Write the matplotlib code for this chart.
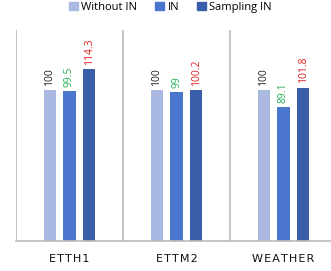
import numpy as np
import matplotlib.pyplot as plt
from matplotlib.patches import Patch

plt.rcParams['font.family'] = ['Open Sans', 'DejaVu Sans']

datasets = ["ETTH1", "ETTM2", "WEATHER"]
series = ["Without IN", "IN", "Sampling IN"]
without_in = [100, 100, 100]
with_in = [99.5, 99, 89.1]
sampling_in = [114.3, 100.2, 101.8]
labels = [["100", "100", "100"], ["99.5", "99", "89.1"], ["114.3", "100.2", "101.8"]]

colors = ["#AAB9E1", "#4A76CD", "#3B5EA8"]
label_colors = [["#222222"] * 3, ["#27B055"] * 3, ["#E02020"] * 3]

fig = plt.figure(figsize=(3.31, 2.71), dpi=100)
# axes runs slightly past the right edge, like the original
ax = fig.add_axes([16 / 331, 30 / 271, 321 / 331, 211 / 271])

x = np.arange(len(datasets))
w = 0.117
step = 0.183
for i, vals in enumerate([without_in, with_in, sampling_in]):
    pos = x + (i - 1) * step
    ax.bar(pos, vals, width=w, color=colors[i], zorder=2)
    for p, v, t, c in zip(pos, vals, labels[i], label_colors[i]):
        ax.annotate(t, (p, v), xytext=(0, 3), textcoords="offset points",
                    rotation=90, ha="center", va="bottom", fontsize=7.5, color=c)

ax.set_xlim(-0.5, 2.5)
ax.set_ylim(0, 140)
ax.set_yticks([])
ax.set_xticks(x)
# spaced-out letters as in the original
ax.set_xticklabels(["\u200a".join(d) for d in datasets], fontsize=8, color="#111111",
                   family=["DejaVu Sans"])
ax.tick_params(axis="x", length=0, pad=9)
for s in ["top", "right", "left"]:
    ax.spines[s].set_visible(False)
ax.spines["bottom"].set_color("#BBBBBB")
ax.spines["bottom"].set_linewidth(1.2)
for xs in [-0.5, 0.5, 1.5]:
    ax.axvline(xs, color="#BBBBBB", lw=1.2, zorder=1)

handles = [Patch(color=c) for c in colors]
fig.legend(handles, series, loc="upper center", bbox_to_anchor=(0.515, 1.03), ncol=3,
           frameon=False, fontsize=8, handlelength=0.8, handleheight=0.8,
           handletextpad=0.3, columnspacing=1.6)

fig.savefig("out.png", dpi=100)
